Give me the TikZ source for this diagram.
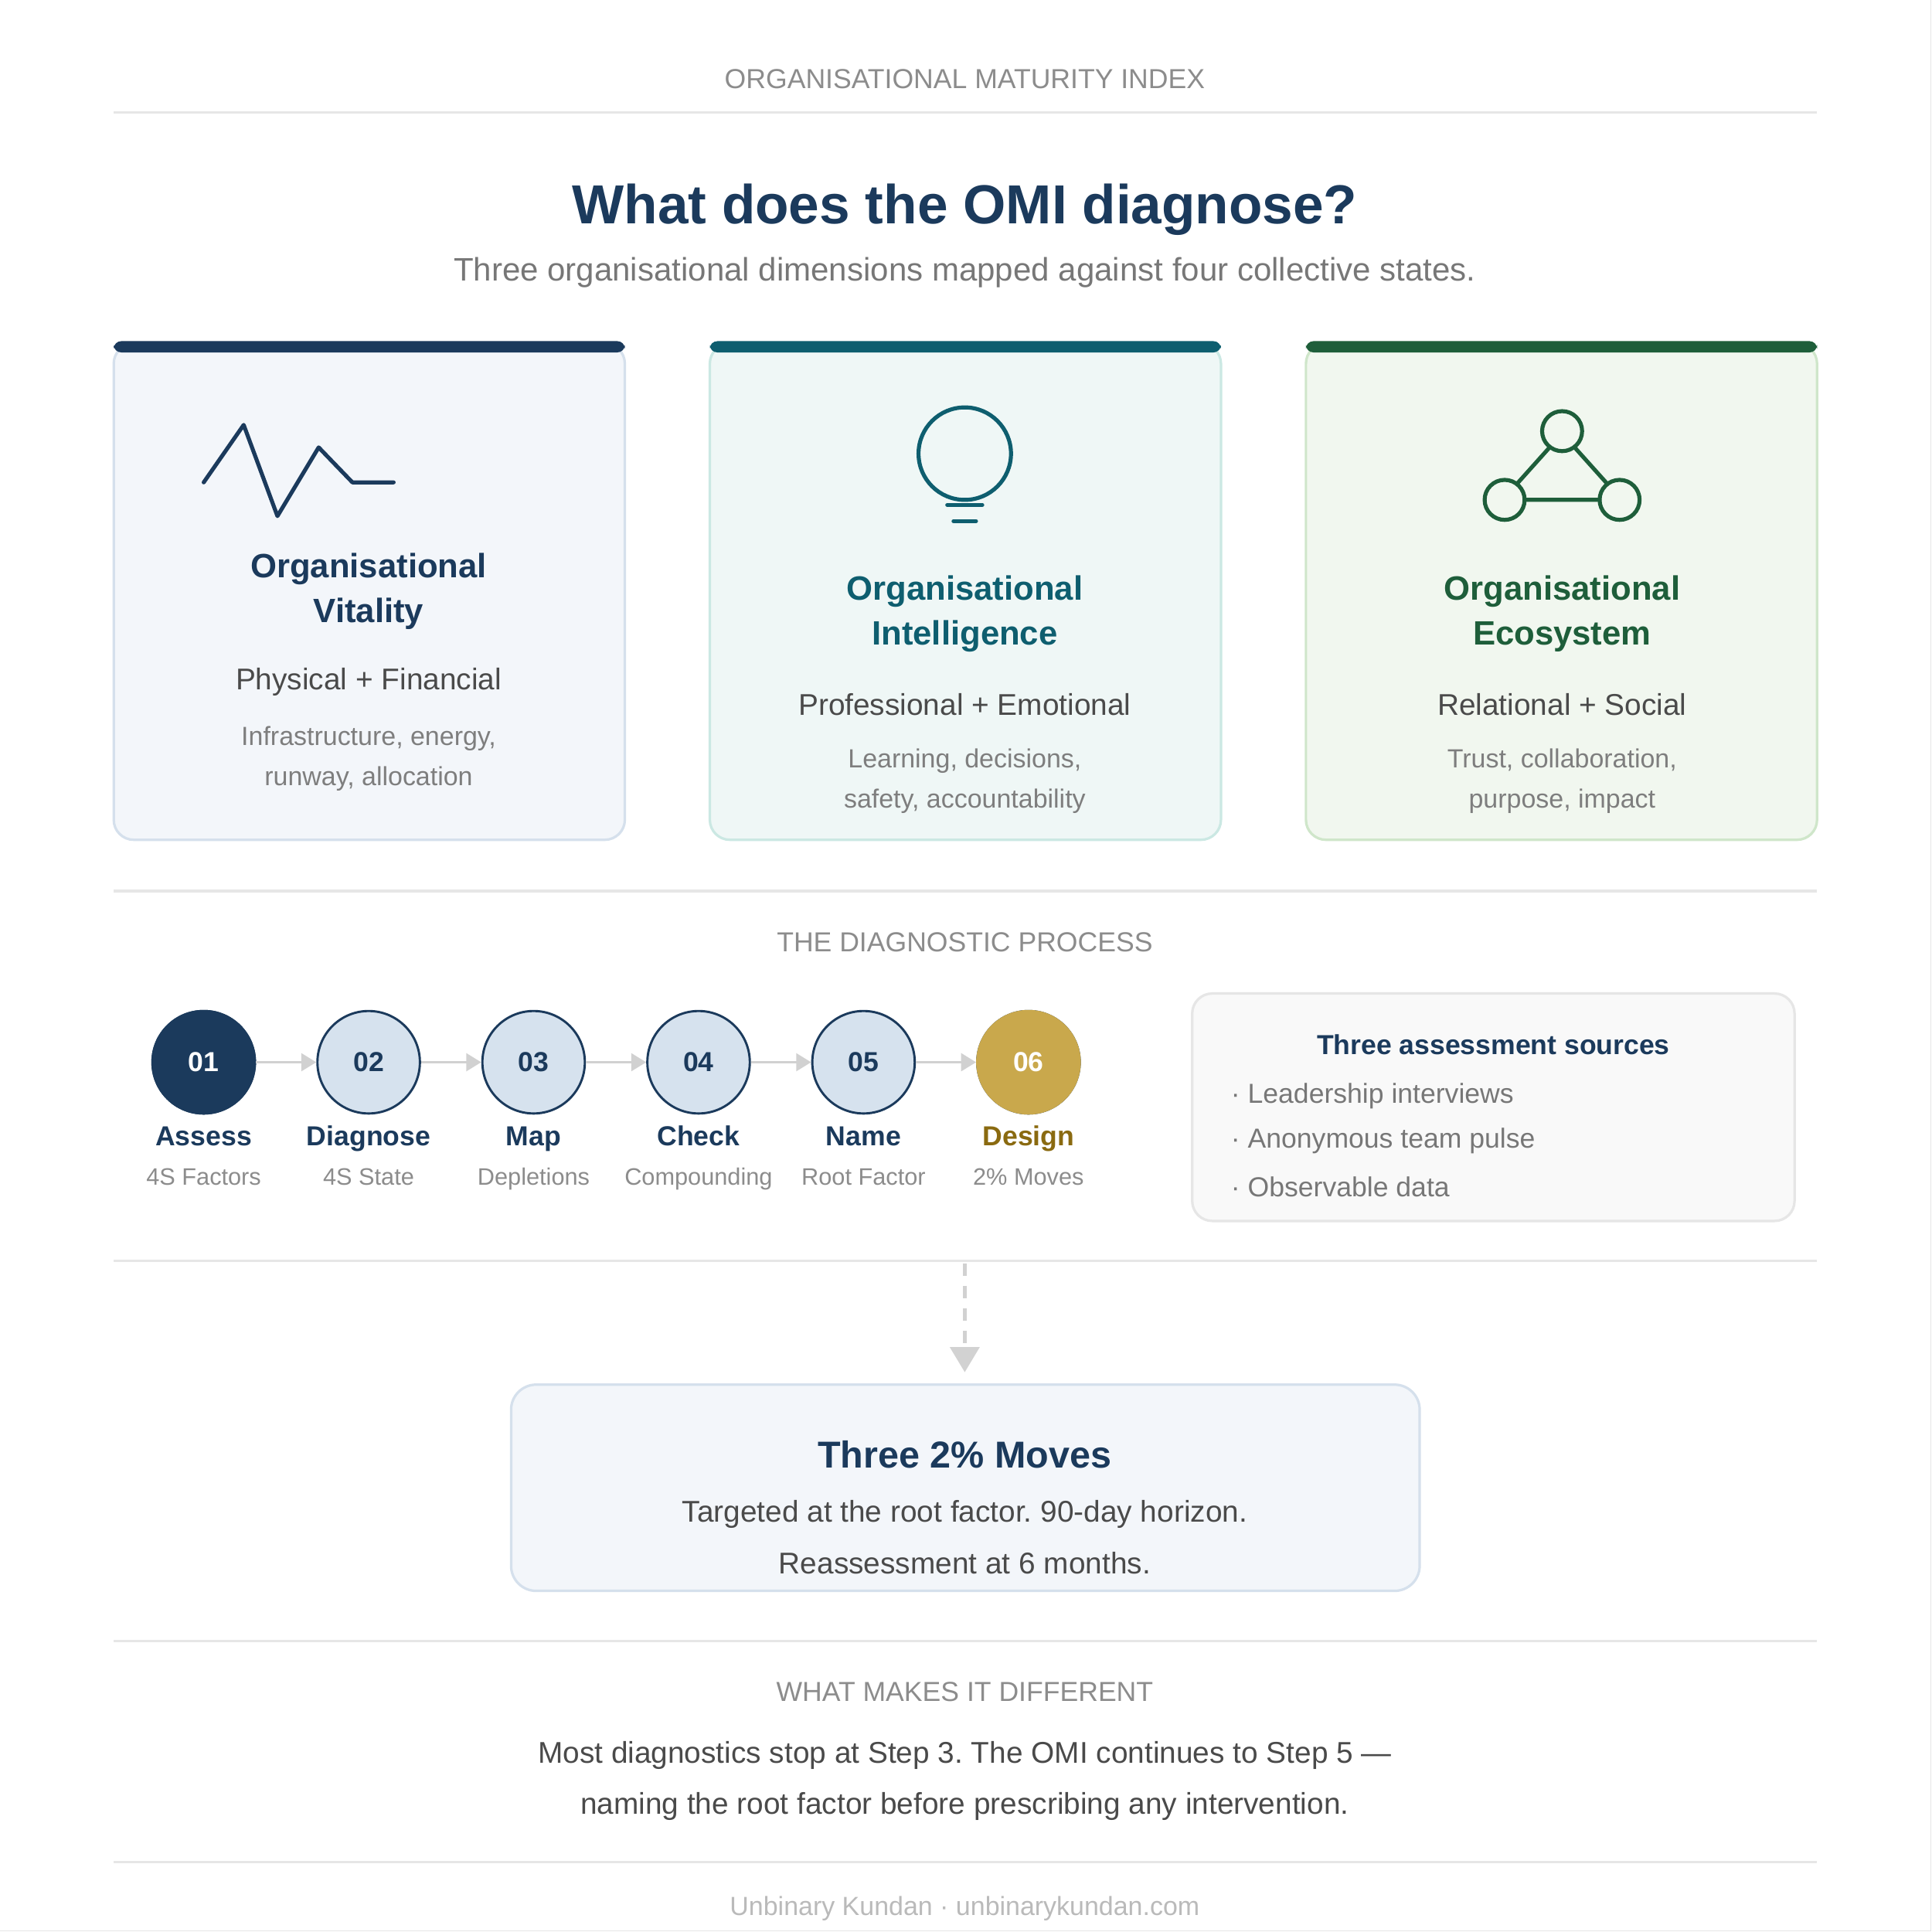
\documentclass[tikz,border=0pt]{standalone}
\usepackage{fontspec}
\setmainfont{Liberation Sans}
\frenchspacing
\usetikzlibrary{positioning,arrows.meta}
\definecolor{navy}{HTML}{1B3A5C}
\definecolor{teal}{HTML}{0E5E6F}
\definecolor{forest}{HTML}{1E5E3A}
\definecolor{gold}{HTML}{C9A84C}
\definecolor{ochre}{HTML}{8A6A10}
\definecolor{rule}{HTML}{E6E6E6}
\definecolor{greytext}{HTML}{8C8C8C}
\definecolor{bodytext}{HTML}{4A4A4A}
\definecolor{stepfill}{HTML}{D6E2EE}
\definecolor{movesfill}{HTML}{F3F6FA}
\definecolor{movesline}{HTML}{D5E0EC}
\tikzset{
  hrule/.style={draw=rule, line width=1pt},
  header/.style={text=greytext, font=\fontsize{11}{13}\selectfont},
  cardtitle/.style={font=\bfseries\fontsize{13.5}{18}\selectfont, align=center},
  cardsub/.style={text=bodytext, font=\fontsize{12}{14}\selectfont},
  carddesc/.style={text=greytext!90!black, font=\fontsize{10.5}{16}\selectfont, align=center},
  stepnode/.style={circle, minimum size=41pt, inner sep=0pt, draw=navy, line width=0.9pt, fill=stepfill, text=navy, font=\bfseries\fontsize{11}{13}\selectfont},
  steplabel/.style={anchor=base, inner sep=0pt, font=\bfseries\fontsize{11}{13}\selectfont, text=navy},
  stepsub/.style={anchor=base, inner sep=0pt, text=greytext, font=\fontsize{9.5}{11}\selectfont},
  steparrow/.style={draw=rule!80!gray, line width=1.2pt, -{Triangle[length=6pt,width=7pt]}},
  icon/.style={line width=1.6pt, line cap=round, line join=round}
}
\begin{document}
\begin{tikzpicture}[x=0.5pt, y=-0.5pt]
\useasboundingbox (0,0) rectangle (1546,1546);
\fill[white] (0,0) rectangle (1546,1546);
\draw[rule] (1545,0) -- (1545,1545) -- (0,1545);
% header
\node[header] (kicker) at (772,63) {ORGANISATIONAL MATURITY INDEX};
\draw[hrule] (91,90) -- (1454,90);
\node[font=\bfseries\fontsize{22}{26}\selectfont, text=navy] (title) at (772,168) {What does the OMI diagnose?};
\node[text=greytext!85!black, font=\fontsize{13}{15}\selectfont] (subtitle) at (772,218) {Three organisational dimensions mapped against four collective states.};
% cards
\foreach \x/\c/\f/\b in {91/navy/F3F6FA/D5E0EC, 568/teal/EFF7F6/CBE8E3, 1045/forest/F1F7EF/CFE6CA}{
  \definecolor{cardfill}{HTML}{\f}\definecolor{cardline}{HTML}{\b}
  \draw[fill=cardfill, draw=cardline, line width=1pt, rounded corners=8pt] (\x,275) rectangle ++(409,397);
  \fill[\c, rounded corners=3pt] (\x,273) rectangle ++(409,9);
}
% icons
\draw[icon, navy] (163,386) -- (195,340) -- (222,413) -- (255,358) -- (282,386) -- (315,386);
\draw[icon, teal] (772,363) circle (37);
\draw[icon, teal] (758,404) -- (786,404) (763,417) -- (781,417);
\draw[icon, forest] (1250,345) circle (16) (1204,400) circle (16) (1296,400) circle (16);
\draw[icon, forest] (1240,358) -- (1214,387) (1260,358) -- (1286,387) (1220,400) -- (1280,400);
% card texts
\node[cardtitle, text=navy] (vitality) at (295,473) {Organisational\\Vitality};
\node[cardsub] (vitsub) at (295,546) {Physical + Financial};
\node[carddesc] (vitdesc) at (295,607) {Infrastructure, energy,\\runway, allocation};
\node[cardtitle, text=teal] (intel) at (772,491) {Organisational\\Intelligence};
\node[cardsub] (intsub) at (772,564) {Professional + Emotional};
\node[carddesc] (intdesc) at (772,625) {Learning, decisions,\\safety, accountability};
\node[cardtitle, text=forest] (eco) at (1250,491) {Organisational\\Ecosystem};
\node[cardsub] (ecosub) at (1250,564) {Relational + Social};
\node[carddesc] (ecodesc) at (1250,625) {Trust, collaboration,\\purpose, impact};
\draw[hrule] (91,713) -- (1454,713);
% process
\node[header] (process) at (772,754) {THE DIAGNOSTIC PROCESS};
\foreach \n/\x/\lab/\sub/\lc in {1/163/Assess/4S Factors/navy, 2/295/Diagnose/4S State/navy, 3/427/Map/Depletions/navy, 4/559/Check/Compounding/navy, 5/691/Name/Root Factor/navy, 6/823/Design/2\% Moves/ochre}{
  \node[stepnode] (s\n) at (\x,850) {0\n};
  \node[steplabel, text=\lc] (l\n) at (\x,917) {\lab};
  \node[stepsub] (u\n) at (\x,948) {\sub};
}
\node[stepnode, fill=navy, text=white] at (s1) {01};
\node[stepnode, fill=gold, draw=gold, text=white] at (s6) {06};
\foreach \a/\b in {1/2, 2/3, 3/4, 4/5, 5/6}
  \draw[steparrow] (s\a) -- (s\b);
% sources box
\draw[fill=gray!5, draw=rule, line width=1pt, rounded corners=8pt] (954,795) rectangle (1436,977);
\node[font=\bfseries\fontsize{11}{13}\selectfont, text=navy] (sources) at (1195,836) {Three assessment sources};
\node[anchor=west, text=greytext!85!black, font=\fontsize{11}{13}\selectfont] (src1) at (978,877) {· Leadership interviews};
\node[anchor=west, text=greytext!85!black, font=\fontsize{11}{13}\selectfont] (src2) at (978,913) {· Anonymous team pulse};
\node[anchor=west, text=greytext!85!black, font=\fontsize{11}{13}\selectfont] (src3) at (978,950) {· Observable data};
\draw[hrule] (91,1009) -- (1454,1009);
% outcome
\coordinate (dashtop) at (772,1011);
\draw[fill=movesfill, draw=movesline, line width=1pt, rounded corners=10pt] (409,1108) rectangle (1136,1273);
\node[font=\bfseries\fontsize{15}{18}\selectfont, text=navy] (moves) at (772,1164) {Three 2\% Moves};
\node[text=bodytext, font=\fontsize{12}{20.5}\selectfont, align=center] (movesdesc) at (772,1230) {Targeted at the root factor. 90-day horizon.\\Reassessment at 6 months.};
\draw[draw=rule!80!gray, line width=1.5pt, dash pattern=on 5pt off 4pt] (dashtop) -- (772,1080);
\fill[rule!80!gray] (760,1078) -- (784,1078) -- (772,1098) -- cycle;
\draw[hrule] (91,1313) -- (1454,1313);
% difference
\node[header] (diff) at (772,1354) {WHAT MAKES IT DIFFERENT};
\node[text=bodytext, font=\fontsize{12}{20.5}\selectfont, align=center] (diffdesc) at (772,1425) {Most diagnostics stop at Step 3. The OMI continues to Step 5 —\\naming the root factor before prescribing any intervention.};
\draw[hrule] (91,1490) -- (1454,1490);
\node[text=greytext!60, font=\fontsize{10.5}{12}\selectfont] (footer) at (772,1527) {Unbinary Kundan · unbinarykundan.com};
\end{tikzpicture}
\end{document}
